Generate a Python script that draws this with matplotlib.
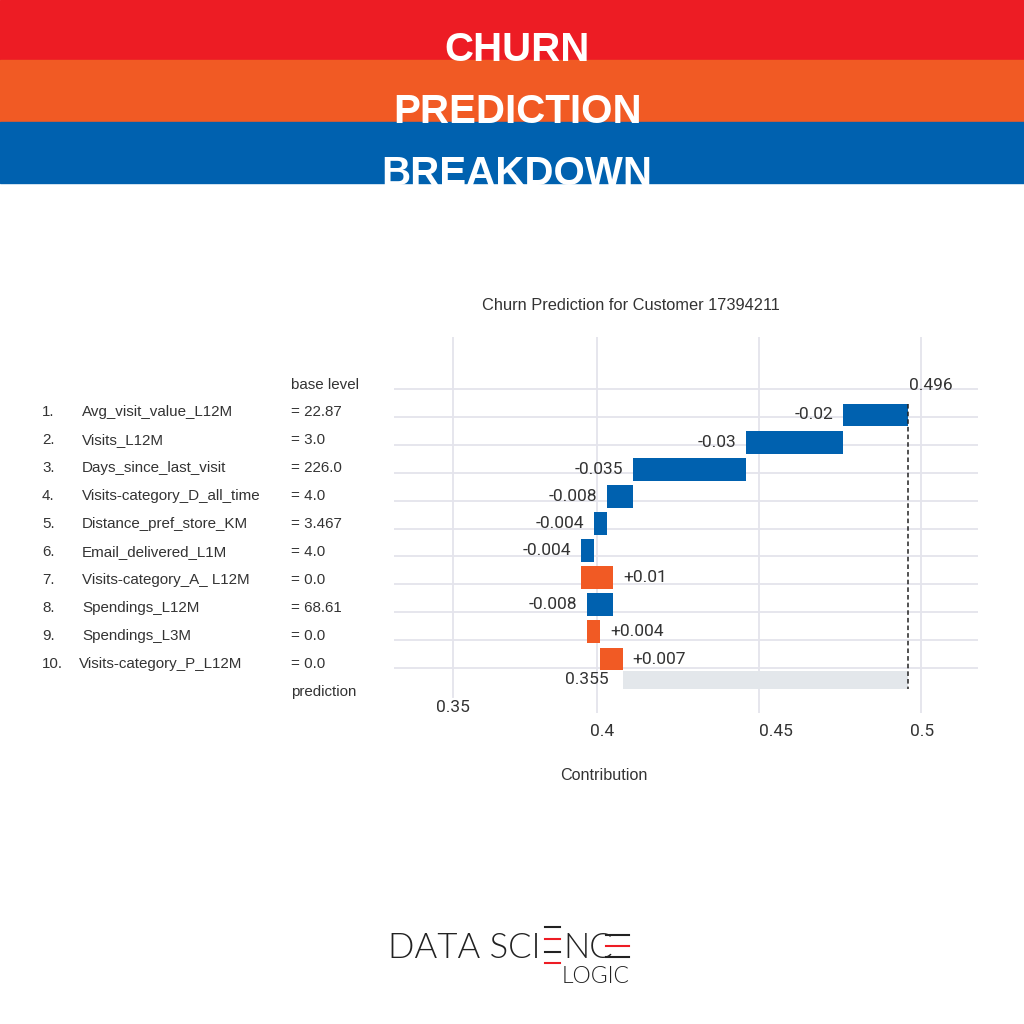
import matplotlib
matplotlib.use("Agg")
import matplotlib.pyplot as plt
from matplotlib.patches import Rectangle
from matplotlib.lines import Line2D

# ---------------- data ----------------
title_words = ["CHURN", "PREDICTION", "BREAKDOWN"]
chart_title = "Churn Prediction for Customer 17394211"
features = ["Avg_visit_value_L12M", "Visits_L12M", "Days_since_last_visit",
            "Visits-category_D_all_time", "Distance_pref_store_KM", "Email_delivered_L1M",
            "Visits-category_A_ L12M", "Spendings_L12M", "Spendings_L3M",
            "Visits-category_P_L12M"]
feature_values = ["22.87", "3.0", "226.0", "4.0", "3.467", "4.0", "0.0", "68.61", "0.0", "0.0"]
contributions = [-0.02, -0.03, -0.035, -0.008, -0.004, -0.004, 0.01, -0.008, 0.004, 0.007]
base_level = 0.496
prediction_label = 0.355
tick_labels = ["0.35", "0.4", "0.45", "0.5"]
x_label = "Contribution"
logo_parts = ["DATA SCI", "NC", "LOGIC"]

# ---------------- style ----------------
RED = "#ED1C24"
ORANGE = "#F15A24"
BLUE = "#0061AF"
GRAY_BAR = "#E3E7EB"
GRID = "#E4E4EC"
TXT = "#333333"
SANS = ["Liberation Sans", "DejaVu Sans"]
NUM = ["Roboto", "DejaVu Sans"]
LOGO = ["Lato", "DejaVu Sans"]

W = 1024
fig = plt.figure(figsize=(10.24, 10.24), dpi=100)
fig.patch.set_facecolor("white")

def fx(px):
    return px / W

def fy(py):
    return 1 - py / W

# header bands
for (top, bot), col in zip([(0, 60), (60, 122), (122, 183)], [RED, ORANGE, BLUE]):
    fig.patches.append(Rectangle((0, fy(bot)), 1, (bot - top) / W,
                                 transform=fig.transFigure, color=col, zorder=0))
for word, base_px in zip(title_words, [61, 123, 185]):
    fig.text(0.505, fy(base_px), word, color="white", fontsize=29, fontweight="bold",
             family=SANS, ha="center", va="baseline", zorder=2)

# ---------------- chart ----------------
ax_top, ax_bot, ax_left, ax_right = 337, 713, 394, 978
ax = fig.add_axes([fx(ax_left), fy(ax_bot), fx(ax_right - ax_left), (ax_bot - ax_top) / W])
ax.set_facecolor("none")
row_px = 27.9
grid0 = 389
ax.set_ylim((ax_bot - grid0) / row_px, (ax_top - grid0) / row_px)
xmin, xmax = 0.3373, 0.5176
ax.set_xlim(xmin, xmax)
for s in ax.spines.values():
    s.set_visible(False)
ax.set_xticks([])
ax.set_yticks([])

n = len(contributions)
for r in range(n + 1):
    ax.axhline(r, color=GRID, lw=1.3, zorder=0)
grid_x = [0.3556, 0.4, 0.45, 0.5]
grid_ymin = [(ax_bot - 697) / (ax_bot - ax_top), 0, 0, 0]
for gx, ymn in zip(grid_x, grid_ymin):
    ax.axvline(gx, ymin=ymn, ymax=1, color=GRID, lw=1.3, zorder=0)

bar_y = [0.93 + k * 0.972 for k in range(n)]
bar_h = 0.82
cur = base_level
for v, y in zip(contributions, bar_y):
    new = cur + v
    left = min(cur, new)
    col = BLUE if v < 0 else ORANGE
    ax.barh(y, abs(v), left=left, height=bar_h, color=col, zorder=2)
    lbl = f"{v:+g}"
    if v < 0:
        ax.annotate(lbl, (left, y), xytext=(-7, 0), textcoords="offset points",
                    ha="right", va="center", fontsize=12.5, family=NUM, color=TXT)
    else:
        ax.annotate(lbl, (left + abs(v), y), xytext=(7, 0), textcoords="offset points",
                    ha="left", va="center", fontsize=12.5, family=NUM, color=TXT)
    cur = new

final = cur
pred_y = 10.43
ax.barh(pred_y, base_level - final, left=final, height=0.68, color=GRAY_BAR, zorder=1)
ax.annotate(f"{prediction_label:g}", (final, pred_y), xytext=(-10, 0), textcoords="offset points",
            ha="right", va="center", fontsize=12.5, family=NUM, color=TXT)
ax.annotate(f"{base_level:g}", (base_level, -0.14), xytext=(1, 0), textcoords="offset points",
            ha="left", va="center", fontsize=12.5, family=NUM, color=TXT)
ax.plot([base_level, base_level], [bar_y[0] - bar_h / 2, pred_y + 0.34], ls=(0, (3, 2)),
        color="#222222", lw=1.1, zorder=3)

# tick labels (placed as in the reference)
tick_pos_px = [453, 602, 776, 922]
tick_y_px = [707, 732, 732, 732]
for lab, px, py in zip(tick_labels, tick_pos_px, tick_y_px):
    fig.text(fx(px), fy(py), lab, fontsize=12.5, family=NUM, color=TXT, ha="center", va="center")
fig.text(fx(604), fy(775), x_label, fontsize=11.6, family=SANS, color=TXT, ha="center", va="center")
fig.text(fx(631), fy(306), chart_title, fontsize=11.8, family=SANS, color=TXT,
         ha="center", va="center")

# left labels
LS = 10.9
fig.text(fx(291), fy(385), "base level", fontsize=LS, family=SANS, color=TXT, va="center")
fig.text(fx(291), fy(692), "prediction", fontsize=LS, family=SANS, color=TXT, va="center")
for k, (f, val) in enumerate(zip(features, feature_values)):
    ypx = 412 + k * 28.0
    fig.text(fx(42), fy(ypx), f"{k + 1}.", fontsize=LS, family=SANS, color=TXT, va="center")
    fig.text(fx(82 if k < 9 else 79), fy(ypx), f, fontsize=LS, family=SANS, color=TXT, va="center")
    fig.text(fx(291), fy(ypx), f"= {val}", fontsize=LS, family=SANS, color=TXT, va="center")

# logo
LOGO_C = "#222222"
fig.text(fx(540), fy(958), logo_parts[0], fontsize=25, family=LOGO, fontweight=300,
         color=LOGO_C, ha="right", va="baseline")
fig.text(fx(563), fy(958), logo_parts[1], fontsize=25, family=LOGO, fontweight=300,
         color=LOGO_C, ha="left", va="baseline")
fig.text(fx(629), fy(983), logo_parts[2], fontsize=16.5, family=LOGO, fontweight=300,
         color=LOGO_C, ha="right", va="baseline")
for (x0, x1, ypx, col) in [(545, 560, 927, LOGO_C), (545, 560, 939, RED),
                           (545, 560, 952, LOGO_C), (545, 560, 963, RED),
                           (606, 629, 935, LOGO_C), (606, 629, 946, RED),
                           (606, 629, 957, LOGO_C)]:
    fig.lines.append(Line2D([fx(x0), fx(x1)], [fy(ypx), fy(ypx)], transform=fig.transFigure,
                            color=col, lw=1.5))

fig.savefig("out.png", dpi=100, facecolor="white")
